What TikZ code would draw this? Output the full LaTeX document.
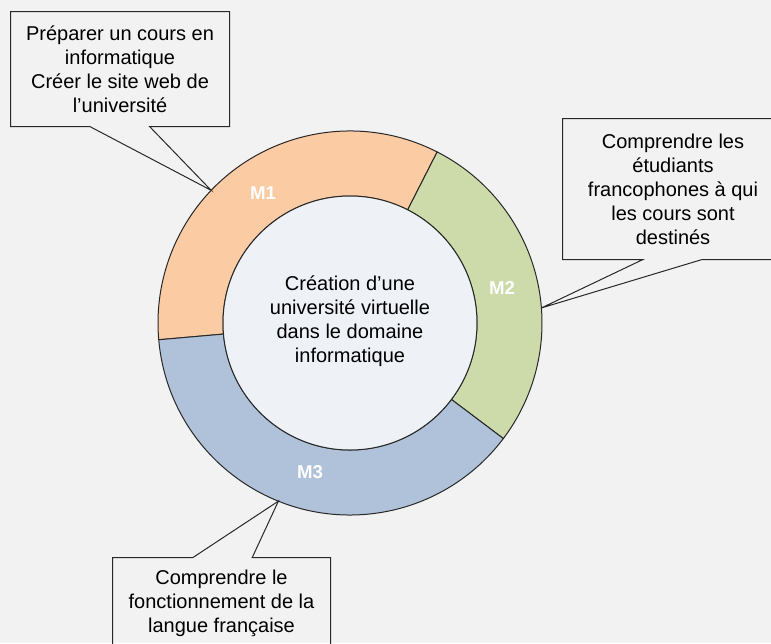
\documentclass[tikz,border=0pt]{standalone}
\usepackage{fontspec}
\setmainfont{Liberation Sans}
\usetikzlibrary{calc}
\tikzset{every picture/.style={line width=0.75pt}}
\definecolor{bgcol}{RGB}{242,242,242}
\definecolor{monecol}{RGB}{251,203,164}
\definecolor{mtwocol}{RGB}{204,219,169}
\definecolor{mthreecol}{RGB}{176,194,218}
\definecolor{corecol}{RGB}{238,241,246}
\definecolor{edgecol}{RGB}{40,40,40}

\begin{document}
\begin{tikzpicture}[x=0.75pt,y=0.75pt,yscale=-1,xscale=1,
  ringedge/.style={draw=edgecol},
  mlabel/.style={text=white,font=\fontsize{14}{16}\selectfont\bfseries,inner sep=0.75pt},
  calltext/.style={inner sep=0pt,align=center,font=\fontsize{15}{18}\selectfont},
  callout/.style={draw=edgecol}]
\useasboundingbox (0,0) rectangle (771,643);
\fill[bgcol] (0,0) rectangle (771,643);

%Ring centre and pointer tips
\coordinate (ctr) at (350,323);
\coordinate (m1tip) at ($(ctr)+(-136.3:192)$);
\coordinate (m2tip) at ($(ctr)+(-4.5:192)$);
\coordinate (m3tip) at ($(ctr)+(111.9:192)$);

%Shape: Ring sector M1
\draw[ringedge,fill=monecol] ($(ctr)+(-63:192)$) arc[start angle=-63,end angle=-185,radius=192] -- ($(ctr)+(-185:127)$) arc[start angle=-185,end angle=-63,radius=127] -- cycle;
%Shape: Ring sector M2
\draw[ringedge,fill=mtwocol] ($(ctr)+(37:192)$) arc[start angle=37,end angle=-63,radius=192] -- ($(ctr)+(-63:127)$) arc[start angle=-63,end angle=37,radius=127] -- cycle;
%Shape: Ring sector M3
\draw[ringedge,fill=mthreecol] ($(ctr)+(175:192)$) arc[start angle=175,end angle=37,radius=192] -- ($(ctr)+(37:127)$) arc[start angle=37,end angle=175,radius=127] -- cycle;
%Shape: Circle
\draw[ringedge,fill=corecol] (ctr) circle[radius=127];

% Text Node
\draw (350,321) node (core) [calltext] {Création d’une\\université virtuelle\\dans le domaine\\informatique};
% Text Node
\draw (263,193) node (m1) [mlabel] {M1};
% Text Node
\draw (502,288) node (m2) [mlabel] {M2};
% Text Node
\draw (310,472) node (m3) [mlabel] {M3};

% Text Node
\draw (120,69) node (box1) [calltext,minimum width=163.5pt,minimum height=85.5pt] {Préparer un cours en\\informatique\\Créer le site web de\\l’université};
%Shape: Callout
\draw[callout] (box1.south west) -- (box1.north west) -- (box1.north east) -- (box1.south east) -- ($(box1.south west)!0.635!(box1.south east)$) -- (m1tip) -- ($(box1.south west)!0.362!(box1.south east)$) -- cycle;

% Text Node
\draw (673,189) node (box2) [calltext,minimum width=165pt,minimum height=105pt] {Comprendre les\\étudiants\\francophones à qui\\les cours sont\\destinés};
%Shape: Callout
\draw[callout] (box2.south west) -- (box2.north west) -- (box2.north east) -- (box2.south east) -- ($(box2.south west)!0.632!(box2.south east)$) -- (m2tip) -- ($(box2.south west)!0.364!(box2.south east)$) -- cycle;

% Text Node
\draw (221.5,603) node (box3) [calltext,minimum width=162.75pt,minimum height=67.5pt] {Comprendre le\\fonctionnement de la\\langue française};
%Shape: Callout
\draw[callout] (box3.north west) -- ($(box3.north west)!0.369!(box3.north east)$) -- (m3tip) -- ($(box3.north west)!0.641!(box3.north east)$) -- (box3.north east) -- (box3.south east) -- (box3.south west) -- cycle;

\end{tikzpicture}
\end{document}
